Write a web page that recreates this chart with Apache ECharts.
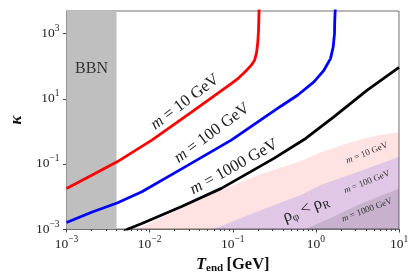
<!DOCTYPE html>
<html><head><meta charset="utf-8">
<script src="https://cdn.jsdelivr.net/npm/echarts@6/dist/echarts.min.js"></script>
<style>html,body{margin:0;padding:0;background:#fff}#c{width:417px;height:279px}</style>
</head><body><div id="c"></div>
<script>
// ---- data ----
const xRange = [0.001, 10];
const yRange = [0.001, 5000];
const xMinorMults = [2, 3, 4, 5, 6, 7, 8, 9];
const xMinorDecades = [-3, -2, -1, 0];
const yTickExps = [-3, -1, 1, 3];
const bbnRange = [0.001, 0.004];

const redT = [0.001, 0.00204, 0.00406, 0.01064, 0.0319, 0.0959, 0.1164, 0.141, 0.1663, 0.1832, 0.1936, 0.200, 0.2042, 0.2071, 0.2087];
const redK = [0.0177, 0.0453, 0.116, 0.537, 3.88, 29.4, 42.8, 67.8, 107, 153, 269, 545, 1271, 4864, 8000];

const blueT = [0.001, 0.00204, 0.00406, 0.00807, 0.0264, 0.0959, 0.379, 0.601, 0.948, 1.248, 1.50, 1.615, 1.675, 1.687, 1.72];
const blueK = [0.00158, 0.00332, 0.00628, 0.0139, 0.0798, 0.537, 5.93, 12.9, 33.0, 75.3, 172, 391, 1007, 2576, 8000];

const blackT = [0.0045, 0.0055, 0.00807, 0.0243, 0.073, 0.313, 0.755, 1.63, 4.15, 10];
const blackK = [0.0007, 0.001, 0.00148, 0.0049, 0.0177, 0.148, 0.605, 2.73, 18.4, 93];

const pinkT = [0.00705, 0.0243, 0.073, 0.219, 0.658, 1.14, 2.60, 5.46, 10];
const pinkK = [0.001, 0.0044, 0.0157, 0.0486, 0.122, 0.230, 0.467, 0.764, 0.944];

const lavT = [0.0585, 0.219, 0.658, 1.14, 3.42, 10];
const lavK = [0.001, 0.00383, 0.0110, 0.0224, 0.0601, 0.165];

const darkT = [0.755, 1.50, 3.42, 10];
const darkK = [0.001, 0.00217, 0.00585, 0.0177];

// ---- build ----
const zip = (a, b) => a.map((v, i) => [v, b[i]]);
const expStr = e => (e < 0 ? '\u2212' + (-e) : String(e));
const minorVals = [];
xMinorDecades.forEach(d => xMinorMults.forEach(m => minorVals.push(Math.log10(m * Math.pow(10, d)))));

const serif = '"Liberation Serif", "DejaVu Serif", serif';
const tickRich = {
  b: { fontFamily: serif, fontSize: 13.5, color: '#222' },
  s: { fontFamily: serif, fontSize: 9.5, color: '#222', padding: [0, 0, 10, 0] }
};

const chart = echarts.init(document.getElementById('c'), null, { renderer: 'canvas' });

const areaSeries = (data, color) => ({
  type: 'line', data: data, showSymbol: false, symbol: 'none',
  lineStyle: { width: 0, opacity: 0 },
  areaStyle: { color: color, origin: 'start', opacity: 1 },
  z: 1, silent: true, animation: false
});
const curve = (data, color) => ({
  type: 'line', data: data, showSymbol: false, symbol: 'none',
  lineStyle: { width: 2.8, color: color }, itemStyle: { color: color },
  z: 4, silent: true, animation: false
});
const italicM = (size, c) => ({ i: { fontStyle: 'italic', fontFamily: serif, fontSize: size, fill: c } });

chart.setOption({
  animation: false,
  backgroundColor: '#fff',
  grid: { left: 64, right: 18, top: 11, bottom: 50, show: true, borderColor: '#707070', borderWidth: 1 },
  xAxis: [
    {
      type: 'log', logBase: 10, min: xRange[0], max: xRange[1], position: 'bottom',
      axisLine: { show: true, onZero: false, lineStyle: { color: '#707070', width: 1 } },
      axisTick: { show: true, length: 3.5, lineStyle: { color: '#444' } },
      splitLine: { show: false },
      axisLabel: {
        margin: 5,
        formatter: v => '{b|10}{s|' + expStr(Math.round(Math.log10(v))) + '}',
        rich: tickRich
      },
      name: '{t|T}{u|end} {n|[GeV]}', nameLocation: 'middle', nameGap: 19,
      nameTextStyle: {
        rich: {
          t: { fontFamily: serif, fontSize: 16.5, fontWeight: 'bold', fontStyle: 'italic', color: '#111' },
          u: { fontFamily: serif, fontSize: 11, fontWeight: 'bold', color: '#111', padding: [7, 0, 0, 0] },
          n: { fontFamily: serif, fontSize: 16.5, fontWeight: 'bold', color: '#111' }
        }
      }
    },
    {
      type: 'value', min: -3, max: 1, position: 'bottom', gridIndex: 0,
      axisLine: { show: false, onZero: false }, splitLine: { show: false },
      axisLabel: { show: false },
      axisTick: { show: true, length: 2, customValues: minorVals, lineStyle: { color: '#444' } }
    }
  ],
  yAxis: [
    {
      type: 'log', logBase: 10, min: yRange[0], max: yRange[1], position: 'left',
      axisLine: { show: true, onZero: false, lineStyle: { color: '#707070', width: 1 } },
      axisTick: { show: false }, axisLabel: { show: false }, splitLine: { show: false }
    },
    {
      type: 'value', min: -3, max: Math.log10(yRange[1]), position: 'left', gridIndex: 0,
      axisLine: { show: false, onZero: false }, splitLine: { show: false },
      axisTick: { show: true, length: 3.5, customValues: yTickExps, lineStyle: { color: '#444' } },
      axisLabel: {
        margin: 7, customValues: yTickExps,
        formatter: v => '{b|10}{s|' + expStr(Math.round(v)) + '}',
        rich: tickRich
      },
      name: '\u03ba', nameLocation: 'middle', nameGap: 40,
      nameTextStyle: { fontFamily: serif, fontSize: 17, fontWeight: 'bold', fontStyle: 'italic', color: '#111' }
    }
  ],
  series: [
    {
      type: 'line', data: [[0.002, 1]], symbol: 'none', lineStyle: { opacity: 0 }, z: 0, silent: true,
      markArea: {
        silent: true,
        itemStyle: { color: '#bfbfbf' },
        label: { show: true, position: 'insideTop', distance: 50, formatter: 'BBN', fontFamily: serif, fontSize: 16, color: '#333' },
        data: [[{ xAxis: bbnRange[0] }, { xAxis: bbnRange[1] }]]
      }
    },
    areaSeries(zip(pinkT, pinkK), 'rgba(255,0,0,0.11)'),
    areaSeries(zip(lavT, lavK), 'rgba(0,0,255,0.12)'),
    areaSeries(zip(darkT, darkK), 'rgba(0,0,0,0.11)'),
    curve(zip(redT, redK), '#ff0000'),
    curve(zip(blueT, blueK), '#0000ff'),
    curve(zip(blackT, blackK), '#000000')
  ],
  graphic: [
    { type: 'text', x: 185, y: 102, rotation: 37 * Math.PI / 180, z: 10,
      style: { text: '{i|m} = 10 GeV', font: '16.5px ' + serif, fill: '#222', align: 'center', verticalAlign: 'middle', rich: italicM(16.5, '#222') } },
    { type: 'text', x: 212, y: 133, rotation: 36.6 * Math.PI / 180, z: 10,
      style: { text: '{i|m} = 100 GeV', font: '16.5px ' + serif, fill: '#222', align: 'center', verticalAlign: 'middle', rich: italicM(16.5, '#222') } },
    { type: 'text', x: 234, y: 167, rotation: 29 * Math.PI / 180, z: 10,
      style: { text: '{i|m} = 1000 GeV', font: '16.5px ' + serif, fill: '#222', align: 'center', verticalAlign: 'middle', rich: italicM(16.5, '#222') } },
    { type: 'text', x: 367, y: 153, rotation: 22 * Math.PI / 180, z: 10,
      style: { text: '{i|m} = 10 GeV', font: '9px ' + serif, fill: '#333', align: 'center', verticalAlign: 'middle', rich: italicM(9, '#333') } },
    { type: 'text', x: 367, y: 182, rotation: 21.8 * Math.PI / 180, z: 10,
      style: { text: '{i|m} = 100 GeV', font: '9px ' + serif, fill: '#333', align: 'center', verticalAlign: 'middle', rich: italicM(9, '#333') } },
    { type: 'text', x: 367, y: 210, rotation: 20.7 * Math.PI / 180, z: 10,
      style: { text: '{i|m} = 1000 GeV', font: '9px ' + serif, fill: '#333', align: 'center', verticalAlign: 'middle', rich: italicM(9, '#333') } },
    { type: 'text', x: 306, y: 209, rotation: 21.6 * Math.PI / 180, z: 10,
      style: { text: '{r|\u03c1}{s|\u03c6} {r|<} {r|\u03c1}{s|R}', font: '16px ' + serif, fill: '#222', align: 'center', verticalAlign: 'middle',
        rich: {
          r: { fontFamily: serif, fontSize: 17, fill: '#222' },
          s: { fontFamily: serif, fontSize: 11, fill: '#222', padding: [8, 0, 0, 0] }
        } } }
  ]
});
</script>
</body></html>
